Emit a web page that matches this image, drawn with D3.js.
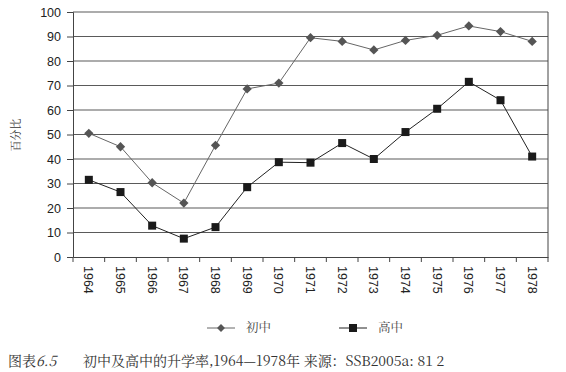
<!DOCTYPE html>
<html>
<head>
<meta charset="utf-8">
<script src="https://cdn.jsdelivr.net/npm/d3@7"></script>
<style>
  body { margin: 0; background: #fff; }
  svg text { font-family: "Liberation Sans", Arial, sans-serif; }
  .serif { font-family: "Noto Serif CJK SC", "Liberation Serif", "Noto Sans CJK SC", serif; }
</style>
</head>
<body>
<svg class="chart" width="566" height="372"></svg>
<script>
var years = ['1964','1965','1966','1967','1968','1969','1970','1971','1972','1973','1974','1975','1976','1977','1978'];
var junior = [50.5, 45, 30.3, 22, 45.6, 68.6, 71, 89.5, 88, 84.5, 88.4, 90.5, 94.3, 92, 88];
var senior = [31.5, 26.5, 12.8, 7.5, 12.2, 28.5, 38.7, 38.5, 46.5, 40, 51, 60.5, 71.5, 64, 41];
var yTicks = [0, 10, 20, 30, 40, 50, 60, 70, 80, 90, 100];

var margin = {top: 12, right: 18, bottom: 115, left: 73};
var width = 548 - margin.left, height = 257 - margin.top;

var svg = d3.select('.chart');
var chart = svg.append('g')
    .attr('transform', `translate(${margin.left}, ${margin.top})`);

var x = d3.scaleBand().domain(years).range([0, width]);
var y = d3.scaleLinear().domain([0, 100]).range([height, 0]);

// gridlines
chart.selectAll('.grid')
    .data(yTicks.slice(1))
    .enter().append('line')
    .attr('x1', 0).attr('x2', width)
    .attr('y1', function(d) { return y(d); })
    .attr('y2', function(d) { return y(d); })
    .attr('stroke', '#5a5a5a')
    .attr('stroke-width', 1.2);

// right border
chart.append('line')
    .attr('x1', width).attr('x2', width)
    .attr('y1', 0).attr('y2', height)
    .attr('stroke', '#444');

// y axis
var yAxis = chart.append('g')
    .call(d3.axisLeft(y).tickValues(yTicks).tickSize(6).tickPadding(6));
yAxis.select('.domain').attr('stroke', '#444');
yAxis.selectAll('.tick line').attr('stroke', '#444');
yAxis.selectAll('text').attr('font-size', 12.5).attr('fill', '#222');

// x axis with ticks on band boundaries
var xAxis = chart.append('g')
    .attr('transform', `translate(0, ${height})`)
    .call(d3.axisBottom(x).tickSize(0).tickPadding(0));
xAxis.select('.domain').attr('stroke', '#444');
xAxis.selectAll('text')
    .attr('font-size', 12.5)
    .attr('fill', '#222')
    .attr('text-anchor', 'start')
    .attr('dy', '0.35em')
    .attr('transform', 'translate(0, 9) rotate(90)');
chart.selectAll('.xtick')
    .data(years.concat(['end']))
    .enter().append('line')
    .attr('x1', function(d, i) { return i * x.step(); })
    .attr('x2', function(d, i) { return i * x.step(); })
    .attr('y1', height).attr('y2', height + 5)
    .attr('stroke', '#444');

function cx(d, i) { return x(years[i]) + x.bandwidth() / 2; }

var line = d3.line()
    .x(cx)
    .y(function(d) { return y(d); });

// 初中
chart.append('path')
    .datum(junior)
    .attr('d', line)
    .attr('fill', 'none')
    .attr('stroke', '#666')
    .attr('stroke-width', 1);
chart.selectAll('.jr')
    .data(junior)
    .enter().append('path')
    .attr('d', d3.symbol().type(d3.symbolDiamond2).size(55))
    .attr('transform', function(d, i) { return `translate(${cx(d, i)}, ${y(d)})`; })
    .attr('fill', '#555');

// 高中
chart.append('path')
    .datum(senior)
    .attr('d', line)
    .attr('fill', 'none')
    .attr('stroke', '#222')
    .attr('stroke-width', 1);
chart.selectAll('.sr')
    .data(senior)
    .enter().append('rect')
    .attr('x', function(d, i) { return cx(d, i) - 4; })
    .attr('y', function(d) { return y(d) - 4; })
    .attr('width', 8).attr('height', 8)
    .attr('fill', '#1a1a1a');

// y label
svg.append('text')
    .attr('class', 'serif')
    .attr('transform', 'translate(20, 135) rotate(-90)')
    .attr('text-anchor', 'middle')
    .attr('font-size', 11)
    .attr('fill', '#333')
    .text('百分比');

// legend
var legend = svg.append('g').attr('transform', 'translate(0, 328)');
legend.append('line').attr('x1', 207).attr('x2', 235).attr('stroke', '#666');
legend.append('path')
    .attr('d', d3.symbol().type(d3.symbolDiamond2).size(40))
    .attr('transform', 'translate(221, 0)')
    .attr('fill', '#555');
legend.append('text').attr('class', 'serif').attr('x', 246).attr('dy', '0.35em')
    .attr('font-size', 12.5).attr('fill', '#444').text('初中');
legend.append('line').attr('x1', 339).attr('x2', 367).attr('stroke', '#222');
legend.append('rect').attr('x', 349).attr('y', -4).attr('width', 8).attr('height', 8).attr('fill', '#1a1a1a');
legend.append('text').attr('class', 'serif').attr('x', 378).attr('dy', '0.35em')
    .attr('font-size', 12.5).attr('fill', '#444').text('高中');

// caption
var cap = svg.append('text')
    .attr('class', 'serif')
    .attr('y', 366)
    .attr('font-size', 14)
    .attr('fill', '#333');
cap.append('tspan').attr('x', 8).text('图表');
cap.append('tspan').attr('font-style', 'italic').text('6.5');
cap.append('tspan').attr('x', 83).text('初中及高中的升学率,1964—1978年 来源：SSB2005a: 81 2');
</script>
</body>
</html>
